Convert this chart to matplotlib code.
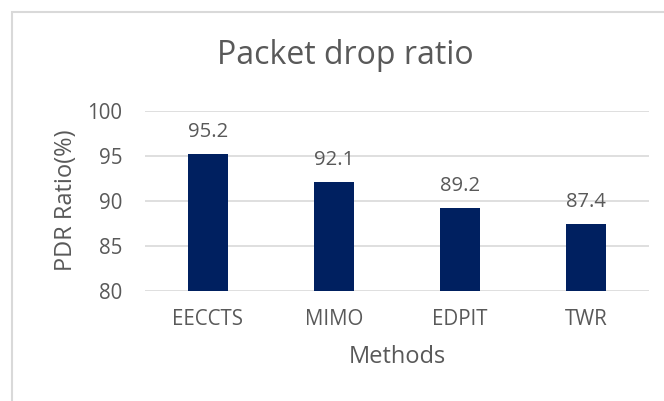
import matplotlib.pyplot as plt
from matplotlib.patches import Rectangle

# data
methods = ['EECCTS', 'MIMO', 'EDPIT', 'TWR']
pdr = [95.2, 92.1, 89.2, 87.4]
yticks = [80, 85, 90, 95, 100]

plt.rcParams['font.family'] = ['Open Sans', 'DejaVu Sans']
text_col = '#595959'
grid_col = '#D9D9D9'
bar_col = '#002060'

fig = plt.figure(figsize=(6.64, 4.01), dpi=100)
ax = fig.add_axes([145 / 664, 1 - 290.7 / 401, 504 / 664, 180 / 401])

# chart frame (right and bottom edges fall outside the picture)
fig.patches.append(Rectangle((12 / 664, -0.1), 1.2, 1 - 12 / 401 + 0.1,
                             transform=fig.transFigure, fill=False,
                             edgecolor=grid_col, linewidth=1.5))

x = range(len(methods))
bars = ax.bar(x, pdr, width=0.315, color=bar_col, zorder=3)

ax.set_ylim(80, 100)
ax.set_xlim(-0.5, len(methods) - 0.5)
ax.set_yticks(yticks)
ax.set_xticks(list(x))
ax.set_xticklabels(methods)
ax.yaxis.grid(True, color=grid_col, linewidth=1.2, zorder=0)
for s in ax.spines.values():
    s.set_visible(False)
ax.tick_params(axis='both', length=0, labelsize=14.8, colors=text_col)
ax.tick_params(axis='y', pad=16.5)
ax.tick_params(axis='x', pad=13)

# value labels above bars
for xi, v in zip(x, pdr):
    ax.annotate(f'{v}', (xi, v), xytext=(0, 12.2), textcoords='offset points',
                ha='center', va='baseline', fontsize=14.6, color=text_col)

ax.set_xlabel('Methods', fontsize=17, color=text_col, labelpad=11)
ax.set_ylabel('PDR Ratio(%)', fontsize=17, color=text_col, labelpad=6.5)

fig.text(345 / 664, 1 - 64.3 / 401, 'Packet drop ratio', ha='center', va='baseline',
         fontsize=23, color=text_col)

fig.savefig('out.png', dpi=100)
